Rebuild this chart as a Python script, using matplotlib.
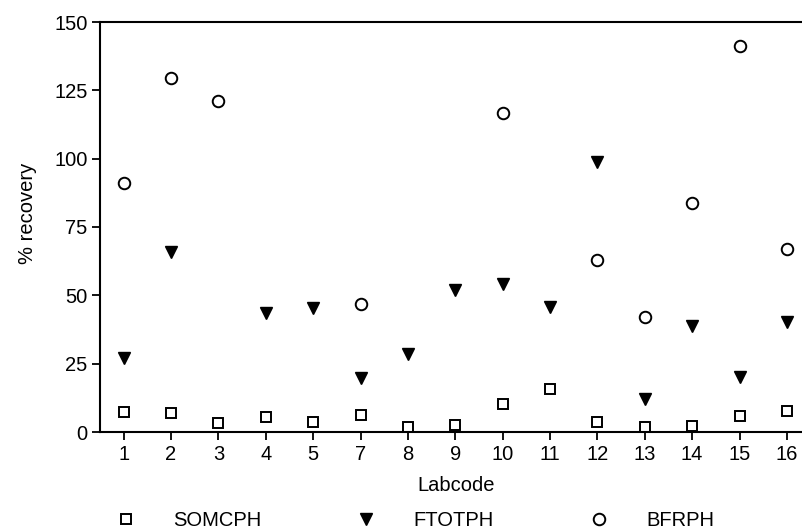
import matplotlib
matplotlib.use("Agg")
import matplotlib.pyplot as plt

# data
labcodes = ["1", "2", "3", "4", "5", "7", "8", "9", "10", "11", "12", "13", "14", "15", "16"]
somcph = [7.4, 6.8, 3.4, 5.6, 3.5, 6.4, 1.7, 2.5, 10.1, 15.7, 3.8, 1.7, 2.2, 6.0, 7.7]
ftotph = [26.9, 65.8, None, 43.5, 45.4, 19.6, 28.5, 51.8, 54.3, 45.7, 98.9, 12.0, 38.8, 20.2, 40.3]
bfrph = [91.2, 129.4, 121.2, None, None, 47.0, None, None, 116.7, None, 63.0, 41.9, 83.6, 141.4, 66.8]
yticks = [0, 25, 50, 75, 100, 125, 150]

plt.rcParams["font.family"] = ["Liberation Sans", "DejaVu Sans"]

fig = plt.figure(figsize=(8.03, 5.32), dpi=100)
ax = fig.add_axes([100 / 803, 100 / 532, 1 - 100 / 803, 410 / 532])

x = list(range(len(labcodes)))

def pts(vals):
    xs = [i for i, v in zip(x, vals) if v is not None]
    ys = [v for v in vals if v is not None]
    return xs, ys

sx, sy = pts(somcph)
fx, fy = pts(ftotph)
bx, by = pts(bfrph)

h1, = ax.plot(sx, sy, ls="none", marker="s", ms=7.5, mfc="white", mec="black", mew=1.4, label="SOMCPH")
h2, = ax.plot(fx, fy, ls="none", marker="v", ms=9, mfc="black", mec="black", label="FTOTPH")
h3, = ax.plot(bx, by, ls="none", marker="o", ms=8.3, mfc="white", mec="black", mew=1.4, label="BFRPH")

ax.set_xlim(-0.5, 14.34)
ax.set_ylim(0, 150)
ax.set_xticks(x)
ax.set_xticklabels(labcodes)
ax.set_yticks(yticks)

ax.spines["right"].set_visible(False)
for s in ["left", "bottom", "top"]:
    ax.spines[s].set_linewidth(1.5)
ax.tick_params(axis="both", direction="out", length=6, width=1.3, labelsize=14.5, pad=3, colors="black")

ax.set_xlabel("Labcode", fontsize=14.5, labelpad=9)
ax.xaxis.label.set_x(0.506)
ax.set_ylabel("% recovery", fontsize=14.5, labelpad=12)
ax.yaxis.label.set_y(0.534)

fig.legend(handles=[h1, h2, h3], loc="center left", bbox_to_anchor=(116 / 803, 1 - 521 / 532),
           ncol=3, frameon=False, fontsize=14.5, handlelength=1.0, handletextpad=1.85,
           columnspacing=4.7, borderpad=0, borderaxespad=0)

fig.savefig("out.png", dpi=100)
